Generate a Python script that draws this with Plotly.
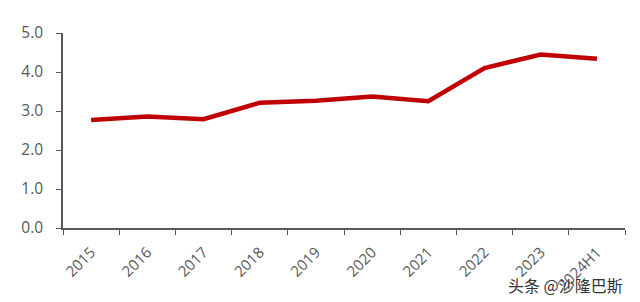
import plotly.graph_objects as go

categories = ["2015", "2016", "2017", "2018", "2019", "2020", "2021", "2022", "2023", "2024H1"]
values = [2.77, 2.86, 2.79, 3.21, 3.26, 3.37, 3.25, 4.10, 4.45, 4.34]
y_ticks = [0, 1, 2, 3, 4, 5]
y_labels = ["0.0", "1.0", "2.0", "3.0", "4.0", "5.0"]

fig = go.Figure()
fig.add_trace(go.Scatter(x=categories, y=values, mode="lines",
                         line=dict(color="#C00000", width=4.5)))

axis_color = "#595959"
fig.update_layout(
    width=640, height=302,
    margin=dict(l=63, r=15, t=33, b=74),
    paper_bgcolor="white", plot_bgcolor="white",
    showlegend=False,
    font=dict(family="Open Sans, sans-serif", color=axis_color),
    xaxis=dict(type="category", range=[-0.5, len(categories) - 0.5], automargin=False,
               tickson="boundaries", ticks="outside", ticklen=5,
               tickcolor=axis_color, showline=True, linecolor=axis_color, linewidth=1.5,
               showgrid=False, tickangle=-45, ticklabelstandoff=8,
               tickfont=dict(size=15, color=axis_color)),
    yaxis=dict(range=[0, 5], tickvals=y_ticks, ticktext=y_labels, ticks="outside",
               automargin=False,
               ticklen=5, tickcolor=axis_color, showline=True, linecolor=axis_color,
               linewidth=1.5, showgrid=False, zeroline=False, ticklabelstandoff=10,
               tickfont=dict(size=15.5, color=axis_color)),
)
fig.add_annotation(text="头条 @沙隆巴斯", xref="paper", yref="paper", x=1.0, y=-0.29,
                   xanchor="right", yanchor="middle", showarrow=False,
                   font=dict(family="Noto Sans CJK SC", size=16, color="#333333"))
fig.write_html("out.html")
